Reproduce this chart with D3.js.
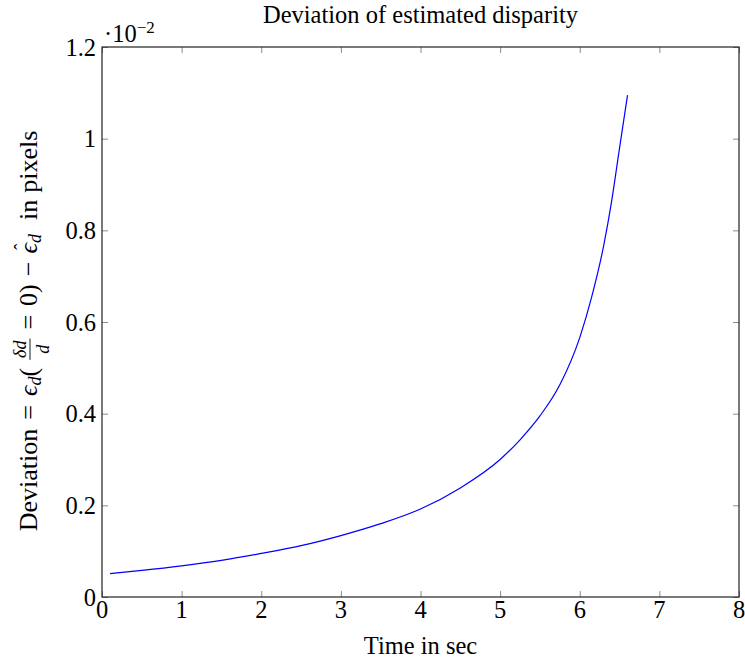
<!DOCTYPE html>
<html>
<head>
<meta charset="utf-8">
<script src="https://cdn.jsdelivr.net/npm/d3@7"></script>
<style>
  body { margin: 0; background: #fff; }
  svg text { font-family: "Liberation Serif", "Times New Roman", serif; fill: #000; white-space: pre; }
</style>
</head>
<body>
<svg id="chart" width="745" height="660"></svg>
<script>
// Time (s) and deviation (×10^-2 px)
const timeSec = [0.1, 0.5, 1, 1.5, 2, 2.5, 3, 3.5, 4, 4.5, 5, 5.25, 5.5, 5.75, 6, 6.15, 6.3, 6.4, 6.5, 6.6];
const deviation = [0.051, 0.058, 0.068, 0.080, 0.095, 0.112, 0.134, 0.160, 0.192, 0.238, 0.300, 0.343, 0.395, 0.463, 0.566, 0.655, 0.766, 0.863, 0.980, 1.095];
const xTicks = [0, 1, 2, 3, 4, 5, 6, 7, 8];
const yTicks = [0, 0.2, 0.4, 0.6, 0.8, 1, 1.2];
const yTickLabels = ["0", "0.2", "0.4", "0.6", "0.8", "1", "1.2"];

const svg = d3.select("#chart");
const m = { left: 102, right: 739, top: 47, bottom: 597 };
const FS = 24.5;
const SUB = 17;

const x = d3.scaleLinear().domain([0, 8]).range([m.left, m.right]);
const y = d3.scaleLinear().domain([0, 1.2]).range([m.bottom, m.top]);

// inward ticks on all four sides
const tickLen = 6;
const tickColor = "#8c8c8c";
function drawAxis(axis, tx, ty) {
  const g = svg.append("g").attr("transform", `translate(${tx},${ty})`).call(axis);
  g.select(".domain").remove();
  g.selectAll(".tick line").attr("stroke", tickColor).attr("stroke-width", 1);
  g.selectAll(".tick text").remove();
  return g;
}
drawAxis(d3.axisBottom(x).tickValues(xTicks).tickSize(-tickLen), 0, m.bottom);
drawAxis(d3.axisTop(x).tickValues(xTicks).tickSize(-tickLen), 0, m.top);
drawAxis(d3.axisLeft(y).tickValues(yTicks).tickSize(-tickLen), m.left, 0);
drawAxis(d3.axisRight(y).tickValues(yTicks).tickSize(-tickLen), m.right, 0);

// frame
svg.append("rect")
  .attr("x", m.left).attr("y", m.top)
  .attr("width", m.right - m.left).attr("height", m.bottom - m.top)
  .attr("fill", "none").attr("stroke", "#222").attr("stroke-width", 1.2);

// tick labels
svg.append("g").selectAll("text").data(xTicks).join("text")
  .attr("x", d => x(d)).attr("y", m.bottom + 21)
  .attr("text-anchor", "middle").attr("font-size", FS)
  .text(d => d);
svg.append("g").selectAll("text").data(yTicks).join("text")
  .attr("x", m.left - 6).attr("y", d => y(d) + 8.5)
  .attr("text-anchor", "end").attr("font-size", FS)
  .text((d, i) => yTickLabels[i]);

// scale factor
const sf = svg.append("text").attr("x", 104).attr("y", 42).attr("font-size", FS);
sf.append("tspan").text("·10");
sf.append("tspan").attr("dy", -9).attr("font-size", SUB).text("−2");

// curve
svg.append("path")
  .datum(timeSec.map((t, i) => [t, deviation[i]]))
  .attr("fill", "none").attr("stroke", "#0000ff").attr("stroke-width", 1.2)
  .attr("d", d3.line().x(d => x(d[0])).y(d => y(d[1])).curve(d3.curveMonotoneX));

// title and x label
svg.append("text").attr("x", (m.left + m.right) / 2).attr("y", 23)
  .attr("text-anchor", "middle").attr("font-size", FS).text("Deviation of estimated disparity");
svg.append("text").attr("x", (m.left + m.right) / 2).attr("y", 654)
  .attr("text-anchor", "middle").attr("font-size", FS).text("Time in sec");

// y label with inline math, laid out piece by piece along the rotated baseline
const FSL = 26;
const SUBL = 18;
const yl = svg.append("g").attr("transform", "translate(37,331) rotate(-90)");
const inner = yl.append("g");
let cx = 0;
function gap(px) { cx += px; }
function put(str, opts = {}) {
  const t = inner.append("text").attr("x", cx).attr("y", opts.dy || 0)
    .attr("font-size", opts.fs || FSL)
    .attr("font-style", opts.italic ? "italic" : null)
    .text(str);
  const w = t.node().getComputedTextLength();
  cx += w;
  return { t, w };
}
put("Deviation");
gap(9); put("="); gap(9);
put("ϵ", { italic: true });
put("d", { italic: true, fs: SUBL, dy: 4 });
put("(");
gap(8);
// fraction δd / d
const fx = cx;
const num = inner.append("text").attr("y", -11).attr("font-size", SUBL).attr("font-style", "italic").text("δd");
const den = inner.append("text").attr("y", 12).attr("font-size", SUBL).attr("font-style", "italic").text("d");
const fw = Math.max(num.node().getComputedTextLength(), den.node().getComputedTextLength()) + 4;
num.attr("x", fx + fw / 2).attr("text-anchor", "middle");
den.attr("x", fx + fw / 2).attr("text-anchor", "middle");
inner.append("line").attr("x1", fx).attr("x2", fx + fw).attr("y1", -7).attr("y2", -7)
  .attr("stroke", "#000").attr("stroke-width", 0.9);
cx += fw;
gap(9); put("="); gap(9);
put("0)");
gap(8); put("−"); gap(8);
const hatX = cx;
const eh = put("ϵ", { italic: true });
inner.append("text").attr("x", hatX + eh.w / 2 + 1.5).attr("y", -10).attr("text-anchor", "middle")
  .attr("font-size", 19).text("ˆ");
put("d", { italic: true, fs: SUBL, dy: 4 });
gap(14);
put("in");
gap(7);
put("pixels");
// centre the whole label on its anchor
inner.attr("transform", `translate(${-cx / 2},0)`);
</script>
</body>
</html>
